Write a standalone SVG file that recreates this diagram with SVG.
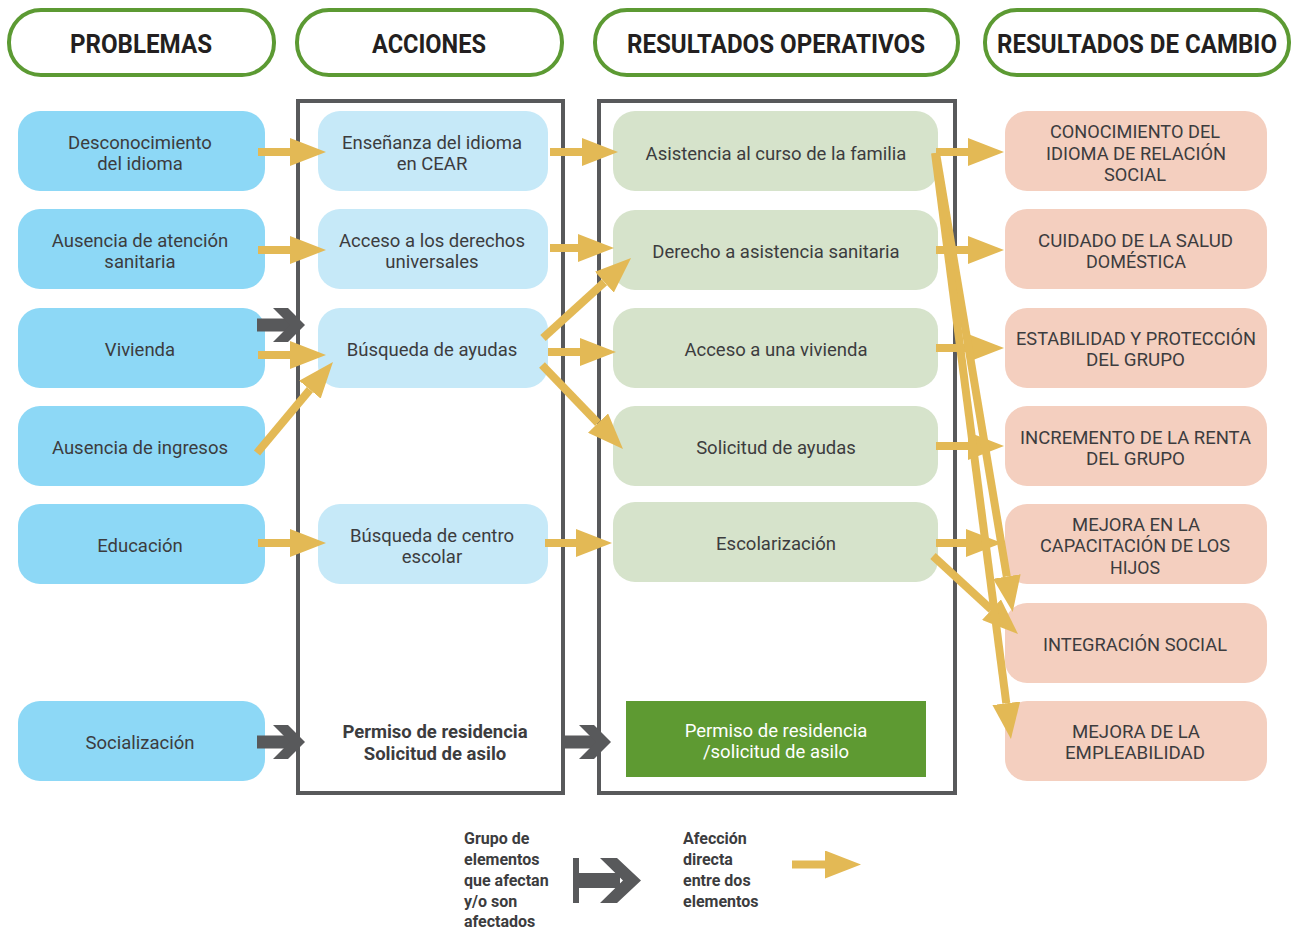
<svg xmlns="http://www.w3.org/2000/svg" width="1293" height="931" viewBox="0 0 1293 931">
<style>
text{font-family:Roboto,"Liberation Sans",sans-serif;fill:#3c3c3e;text-anchor:middle;font-size:18.5px}
.h{font-weight:bold;font-size:25px;fill:#231f20}
.b{font-weight:bold}
.w{fill:#ffffff}
.l{text-anchor:start;font-weight:bold;font-size:16px}
.hdr{fill:#fff;stroke:#5c9a33;stroke-width:4}
.frame{fill:none;stroke:#58595b;stroke-width:4}
.p{fill:#8dd8f6}
.a{fill:#c6e9f8}
.o{fill:#d6e3cb}
.c{fill:#f4cfbf}
.g{stroke:#e3b955;stroke-width:8;fill:none;marker-end:url(#ga)}
.dk{fill:#58595b}
</style>
<defs>
<marker id="ga" markerUnits="userSpaceOnUse" markerWidth="36" markerHeight="28" viewBox="0 0 36 28" refX="0" refY="14" orient="auto">
<path d="M0,0 L36,14 L0,28 Z" fill="#e3b955"/>
</marker>
<g id="dark">
<rect x="0" y="-6.5" width="34" height="13" class="dk"/>
<polygon points="16,-17 31,-17 48,0 31,17 16,17 33,0" class="dk"/>
</g>
</defs>

<g id="headers">
<g id="h-problemas"><rect x="9" y="10" width="265" height="65" rx="32" class="hdr"/><text x="141" y="53" class="h" textLength="142" lengthAdjust="spacingAndGlyphs">PROBLEMAS</text></g>
<g id="h-acciones"><rect x="297" y="10" width="265" height="65" rx="32" class="hdr"/><text x="429" y="53" class="h" textLength="114" lengthAdjust="spacingAndGlyphs">ACCIONES</text></g>
<g id="h-operativos"><rect x="595" y="10" width="363" height="65" rx="32" class="hdr"/><text x="776" y="53" class="h" textLength="298" lengthAdjust="spacingAndGlyphs">RESULTADOS OPERATIVOS</text></g>
<g id="h-cambio"><rect x="985" y="10" width="304" height="65" rx="32" class="hdr"/><text x="1137" y="53" class="h" textLength="280" lengthAdjust="spacingAndGlyphs">RESULTADOS DE CAMBIO</text></g>
</g>

<g id="frames">
<rect x="298" y="101" width="265" height="692" class="frame"/>
<rect x="599" y="101" width="356" height="692" class="frame"/>
</g>

<g id="problemas">
<g id="p1"><rect x="18" y="111" width="247" height="80" rx="22" class="p"/><text x="140" y="148.5">Desconocimiento</text><text x="140" y="169.5">del idioma</text></g>
<g id="p2"><rect x="18" y="209" width="247" height="80" rx="22" class="p"/><text x="140" y="246.5">Ausencia de atención</text><text x="140" y="267.5">sanitaria</text></g>
<g id="p3"><rect x="18" y="308" width="247" height="80" rx="22" class="p"/><text x="140" y="355.5">Vivienda</text></g>
<g id="p4"><rect x="18" y="406" width="247" height="80" rx="22" class="p"/><text x="140" y="453.5">Ausencia de ingresos</text></g>
<g id="p5"><rect x="18" y="504" width="247" height="80" rx="22" class="p"/><text x="140" y="551.5">Educación</text></g>
<g id="p6"><rect x="18" y="701" width="247" height="80" rx="22" class="p"/><text x="140" y="748.5">Socialización</text></g>
</g>

<g id="acciones">
<g id="a1"><rect x="318" y="111" width="230" height="80" rx="22" class="a"/><text x="432" y="148.5">Enseñanza del idioma</text><text x="432" y="169.5">en CEAR</text></g>
<g id="a2"><rect x="318" y="209" width="230" height="80" rx="22" class="a"/><text x="432" y="246.5">Acceso a los derechos</text><text x="432" y="267.5">universales</text></g>
<g id="a3"><rect x="318" y="308" width="230" height="80" rx="22" class="a"/><text x="432" y="355.5">Búsqueda de ayudas</text></g>
<g id="a4"><rect x="318" y="504" width="230" height="80" rx="22" class="a"/><text x="432" y="541.5">Búsqueda de centro</text><text x="432" y="562.5">escolar</text></g>
<g id="a5"><text x="435" y="737.5" class="b">Permiso de residencia</text><text x="435" y="759.5" class="b">Solicitud de asilo</text></g>
</g>

<g id="operativos">
<g id="o1"><rect x="613" y="111" width="325" height="80" rx="22" class="o"/><text x="776" y="159.5">Asistencia al curso de la familia</text></g>
<g id="o2"><rect x="613" y="210" width="325" height="80" rx="22" class="o"/><text x="776" y="257.5">Derecho a asistencia sanitaria</text></g>
<g id="o3"><rect x="613" y="308" width="325" height="80" rx="22" class="o"/><text x="776" y="355.5">Acceso a una vivienda</text></g>
<g id="o4"><rect x="613" y="406" width="325" height="80" rx="22" class="o"/><text x="776" y="453.5">Solicitud de ayudas</text></g>
<g id="o5"><rect x="613" y="502" width="325" height="80" rx="22" class="o"/><text x="776" y="549.5">Escolarización</text></g>
<g id="o6"><rect x="626" y="701" width="300" height="76" fill="#5e9a32"/><text x="776" y="736.5" class="w">Permiso de residencia</text><text x="776" y="757.5" class="w">/solicitud de asilo</text></g>
</g>

<g id="cambio">
<g id="c1"><rect x="1005" y="111" width="262" height="80" rx="22" class="c"/><text x="1135" y="137.5" textLength="170" lengthAdjust="spacingAndGlyphs">CONOCIMIENTO DEL</text><text x="1136" y="159.5" textLength="180" lengthAdjust="spacingAndGlyphs">IDIOMA DE RELACIÓN</text><text x="1135" y="180.5" textLength="62" lengthAdjust="spacingAndGlyphs">SOCIAL</text></g>
<g id="c2"><rect x="1005" y="209" width="262" height="80" rx="22" class="c"/><text x="1135.5" y="246.5" textLength="195" lengthAdjust="spacingAndGlyphs">CUIDADO DE LA SALUD</text><text x="1136" y="267.5" textLength="100" lengthAdjust="spacingAndGlyphs">DOMÉSTICA</text></g>
<g id="c3"><rect x="1005" y="308" width="262" height="80" rx="22" class="c"/><text x="1136" y="344.5" textLength="240" lengthAdjust="spacingAndGlyphs">ESTABILIDAD Y PROTECCIÓN</text><text x="1135.5" y="365.5" textLength="99" lengthAdjust="spacingAndGlyphs">DEL GRUPO</text></g>
<g id="c4"><rect x="1005" y="406" width="262" height="80" rx="22" class="c"/><text x="1135.5" y="443.5" textLength="231" lengthAdjust="spacingAndGlyphs">INCREMENTO DE LA RENTA</text><text x="1135.5" y="464.5" textLength="99" lengthAdjust="spacingAndGlyphs">DEL GRUPO</text></g>
<g id="c5"><rect x="1005" y="504" width="262" height="80" rx="22" class="c"/><text x="1136" y="530.5" textLength="128" lengthAdjust="spacingAndGlyphs">MEJORA EN LA</text><text x="1135" y="551.5" textLength="190" lengthAdjust="spacingAndGlyphs">CAPACITACIÓN DE LOS</text><text x="1135" y="573.5" textLength="50" lengthAdjust="spacingAndGlyphs">HIJOS</text></g>
<g id="c6"><rect x="1005" y="603" width="262" height="80" rx="22" class="c"/><text x="1135" y="650.5" textLength="184" lengthAdjust="spacingAndGlyphs">INTEGRACIÓN SOCIAL</text></g>
<g id="c7"><rect x="1005" y="701" width="262" height="80" rx="22" class="c"/><text x="1136" y="737.5" textLength="128" lengthAdjust="spacingAndGlyphs">MEJORA DE LA</text><text x="1135" y="758.5" textLength="140" lengthAdjust="spacingAndGlyphs">EMPLEABILIDAD</text></g>
</g>

<g id="connectors">
<line x1="258" y1="152" x2="290" y2="152" class="g"/>
<line x1="258" y1="250" x2="290" y2="250" class="g"/>
<line x1="258" y1="355" x2="290" y2="355" class="g"/>
<line x1="257" y1="453" x2="309.9" y2="389.6" class="g"/>
<line x1="258" y1="543" x2="290" y2="543" class="g"/>
<use href="#dark" x="257" y="325"/>
<use href="#dark" x="257" y="742"/>
<use href="#dark" x="563" y="742"/>
<line x1="550" y1="152" x2="582" y2="152" class="g"/>
<line x1="550" y1="248" x2="578" y2="248" class="g"/>
<line x1="543" y1="338" x2="604.4" y2="282.2" class="g"/>
<line x1="548" y1="352" x2="580" y2="352" class="g"/>
<line x1="542" y1="365" x2="598" y2="423.1" class="g"/>
<line x1="545" y1="543" x2="576" y2="543" class="g"/>
<line x1="936" y1="152" x2="968" y2="152" class="g"/>
<line x1="936" y1="250" x2="968" y2="250" class="g"/>
<line x1="936" y1="348" x2="968" y2="348" class="g"/>
<line x1="936" y1="446" x2="968" y2="446" class="g"/>
<line x1="936" y1="543" x2="966" y2="543" class="g"/>
<line x1="933" y1="556" x2="991.5" y2="609.7" class="g"/>
<line x1="936" y1="153" x2="1006.8" y2="576.5" class="g"/>
<line x1="935" y1="153" x2="1006.3" y2="703.3" class="g"/>
</g>

<g id="legend">
<text x="464" y="844" class="l">Grupo de</text>
<text x="464" y="865" class="l">elementos</text>
<text x="464" y="886" class="l">que afectan</text>
<text x="464" y="907" class="l">y/o son</text>
<text x="464" y="927" class="l">afectados</text>
<rect x="573" y="858" width="6" height="45" class="dk"/>
<rect x="573" y="873" width="47" height="15" class="dk"/>
<polygon points="600,858 617,858 641,880.5 617,903 600,903 623,880.5" class="dk"/>
<text x="683" y="844" class="l">Afección</text>
<text x="683" y="865" class="l">directa</text>
<text x="683" y="886" class="l">entre dos</text>
<text x="683" y="907" class="l">elementos</text>
<line x1="792" y1="864.5" x2="825" y2="864.5" class="g"/>
</g>
</svg>
